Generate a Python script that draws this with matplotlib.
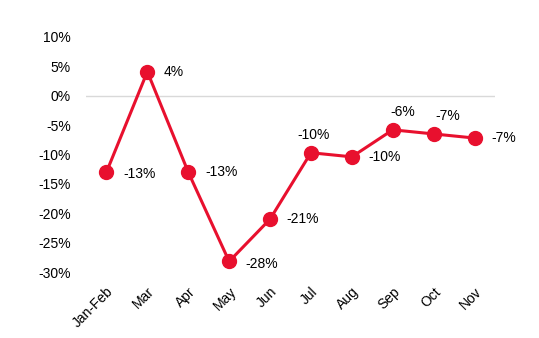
import matplotlib
matplotlib.use("Agg")
import matplotlib.pyplot as plt
from matplotlib import font_manager

categories = ["Jan-Feb", "Mar", "Apr", "May", "Jun", "Jul", "Aug", "Sep", "Oct", "Nov"]
values = [-13.0, 4.1, -13.0, -28.2, -21.0, -9.7, -10.4, -5.8, -6.5, -7.2]
labels = ["-13%", "4%", "-13%", "-28%", "-21%", "-10%", "-10%", "-6%", "-7%", "-7%"]
label_pos = ["rb", "r", "r", "rb", "r", "a", "r", "a", "a", "r"]
above_dx = {5: 2, 7: 7, 8: 10}
yticks = [10, 5, 0, -5, -10, -15, -20, -25, -30]

names = {f.name for f in font_manager.fontManager.ttflist}
fam = ["Liberation Sans Narrow", "DejaVu Sans"] if "Liberation Sans Narrow" in names else ["Liberation Sans", "DejaVu Sans"]
plt.rcParams["font.family"] = fam

red = "#E8102E"
fig = plt.figure(figsize=(5.39, 3.38), dpi=100)
ax = fig.add_axes([86/539, 1-272/338, (495-86)/539, (272-37)/338])
x = list(range(len(categories)))
ax.plot(x, values, color=red, lw=2.2, marker="o", ms=10, zorder=3)
ax.axhline(0, color="#d9d9d9", lw=1, zorder=1)
ax.set_xlim(-0.5, len(categories)-0.5)
ax.set_ylim(-30, 10)
ax.set_yticks(yticks)
ax.set_yticklabels([f"{v}%" for v in yticks], fontsize=10)
ax.set_xticks(x)
ax.set_xticklabels(categories, rotation=45, ha="right", rotation_mode="anchor", fontsize=10)
ax.tick_params(length=0, pad=9)
ax.tick_params(axis="y", pad=11)
for s in ax.spines.values():
    s.set_visible(False)

for i, (xi, v, t, p) in enumerate(zip(x, values, labels, label_pos)):
    if p == "r":
        ax.annotate(t, (xi, v), xytext=(12, 0), textcoords="offset points", ha="left", va="center", fontsize=10)
    elif p == "rb":
        ax.annotate(t, (xi, v), xytext=(12, -1.5), textcoords="offset points", ha="left", va="center", fontsize=10)
    else:
        ax.annotate(t, (xi, v), xytext=(above_dx.get(i, 2), 8), textcoords="offset points", ha="center", va="bottom", fontsize=10)

fig.savefig("out.png", dpi=100, facecolor="white")
